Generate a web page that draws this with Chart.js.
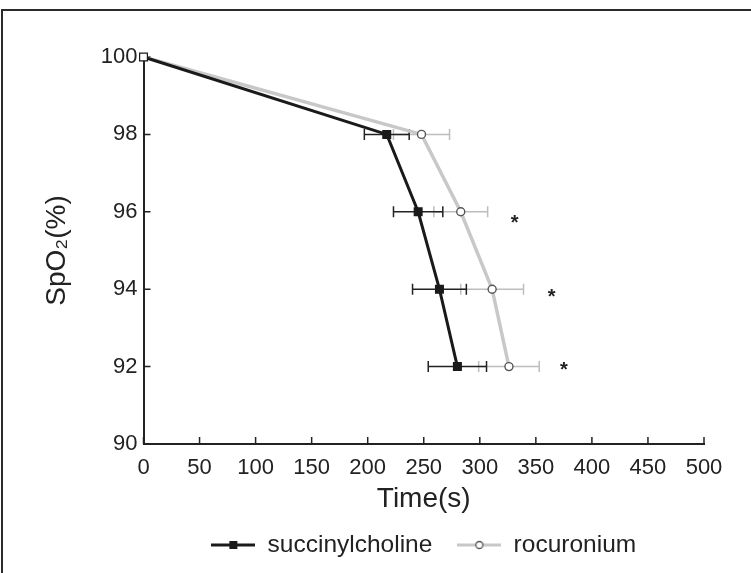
<!DOCTYPE html>
<html>
<head>
<meta charset="utf-8">
<script src="https://cdn.jsdelivr.net/npm/chart.js@4.4.1/dist/chart.umd.min.js"></script>
<style>
  body { margin: 0; background: #fff; }
  #wrap { position: absolute; left: 0; top: 0; width: 751px; height: 573px; overflow: hidden; }
  #frame { position: absolute; left: 1px; top: 9px; width: 800px; height: 600px; border-top: 2px solid #2b2b2b; border-left: 2px solid #2b2b2b; }
  canvas { position: absolute; left: 0; top: 0; }
</style>
</head>
<body>
<div id="wrap">
  <div id="frame"></div>
  <canvas id="chart" width="751" height="573"></canvas>
</div>
<script>
// ================= DATA =================
const spo2Levels = [100, 98, 96, 94, 92];
const succTime = [0, 217, 245, 264, 280];
const succSD = [0, 20, 22, 24, 26];
const rocTime = [0, 248, 283, 311, 326];
const rocSD = [0, 25, 24, 28, 27];
// significance marks
const starTime = [331, 364, 375];
const starLevel = [95.83, 93.92, 92.03];

Chart.defaults.font.family = "'Liberation Sans', Arial, sans-serif";
Chart.defaults.color = '#222';

// legend icons: line with marker
function legendIcon(kind) {
    const c = document.createElement('canvas');
    c.width = 44; c.height = 14;
    const g = c.getContext('2d');
    g.lineWidth = 3;
    g.strokeStyle = kind === 'square' ? '#1a1a1a' : '#c8c8c8';
    g.beginPath(); g.moveTo(0, 7); g.lineTo(44, 7); g.stroke();
    if (kind === 'square') {
        g.fillStyle = '#1a1a1a';
        g.fillRect(18, 3, 8, 8);
    } else {
        g.beginPath();
        g.arc(22, 7, 3.5, 0, Math.PI * 2);
        g.fillStyle = '#fff'; g.fill();
        g.lineWidth = 1.3; g.strokeStyle = '#555'; g.stroke();
    }
    return c;
}
const icons = [legendIcon('square'), legendIcon('circle')];

// error bars + inward ticks
const errorBars = {
    id: 'errorBars',
    beforeDatasetsDraw(chart) {
        const { ctx, scales: { x, y } } = chart;
        const sets = [[rocTime, rocSD, '#bdbdbd'], [succTime, succSD, '#222']];
        ctx.save();
        ctx.lineWidth = 1.5;
        sets.forEach(([t, sd, color]) => {
            ctx.strokeStyle = color;
            spo2Levels.forEach((lvl, i) => {
                if (!sd[i]) return;
                const py = y.getPixelForValue(lvl);
                const x1 = x.getPixelForValue(t[i] - sd[i]);
                const x2 = x.getPixelForValue(t[i] + sd[i]);
                ctx.beginPath();
                ctx.moveTo(x1, py); ctx.lineTo(x2, py);
                ctx.moveTo(x1, py - 5.5); ctx.lineTo(x1, py + 5.5);
                ctx.moveTo(x2, py - 5.5); ctx.lineTo(x2, py + 5.5);
                ctx.stroke();
            });
        });
        ctx.strokeStyle = '#222';
        ctx.beginPath();
        x.ticks.forEach(tk => {
            const px = x.getPixelForValue(tk.value);
            ctx.moveTo(px, y.bottom); ctx.lineTo(px, y.bottom - 7);
        });
        y.ticks.forEach(tk => {
            const py = y.getPixelForValue(tk.value);
            ctx.moveTo(x.left, py); ctx.lineTo(x.left + 7, py);
        });
        ctx.stroke();
        ctx.restore();
    },
    afterDatasetsDraw(chart) {
        const { ctx, scales: { x, y } } = chart;
        ctx.save();
        ctx.fillStyle = '#222';
        ctx.font = "bold 20px 'Liberation Sans', Arial, sans-serif";
        ctx.textAlign = 'center';
        ctx.textBaseline = 'alphabetic';
        starTime.forEach((t, i) => {
            ctx.fillText('*', x.getPixelForValue(t), y.getPixelForValue(starLevel[i]) + 11);
        });
        ctx.restore();
    }
};

new Chart(document.getElementById('chart'), {
    type: 'line',
    data: {
        datasets: [{
            label: 'succinylcholine',
            data: spo2Levels.map((v, i) => ({ x: succTime[i], y: v })),
            borderColor: '#1a1a1a',
            borderWidth: 3,
            pointStyle: 'rect',
            pointRadius: 5.5,
            pointBackgroundColor: ['#fff', '#1a1a1a', '#1a1a1a', '#1a1a1a', '#1a1a1a'],
            pointBorderColor: '#1a1a1a',
            pointBorderWidth: 1.2,
            clip: false
        }, {
            label: 'rocuronium',
            data: spo2Levels.map((v, i) => ({ x: rocTime[i], y: v })),
            borderColor: '#c8c8c8',
            borderWidth: 3.5,
            pointStyle: 'circle',
            pointRadius: [0, 4, 4, 4, 4],
            pointBackgroundColor: '#fff',
            pointBorderColor: '#555',
            pointBorderWidth: 1.4,
            clip: false
        }]
    },
    options: {
        responsive: false,
        animation: false,
        layout: { padding: { left: 30, top: 57, right: 47, bottom: 5.75 } },
        scales: {
            x: {
                type: 'linear', min: 0, max: 500,
                ticks: { stepSize: 50, padding: 11, font: { size: 22 }, maxRotation: 0, autoSkip: false },
                grid: { display: false, drawTicks: false },
                border: { display: true, color: '#222', width: 2 },
                title: { display: true, text: 'Time(s)', font: { size: 28, lineHeight: 1 }, padding: { top: 0, bottom: -5.25 } },
                afterFit: s => { s.height = 63.75; }
            },
            y: {
                min: 90, max: 100,
                ticks: { stepSize: 2, padding: 6, font: { size: 22 } },
                grid: { display: false, drawTicks: false },
                border: { display: true, color: '#222', width: 2 },
                title: { display: true, text: 'SpO₂(%)', font: { size: 28, lineHeight: 1 }, padding: { top: 13, bottom: 0 } },
                afterFit: s => { s.width = 113.5; }
            }
        },
        plugins: {
            tooltip: { enabled: false },
            legend: {
                position: 'bottom',
                fullSize: false,
                labels: {
                    usePointStyle: true,
                    pointStyleWidth: 44,
                    padding: 25,
                    color: '#222',
                    font: { size: 24.5 },
                    generateLabels: chart => chart.data.datasets.map((ds, i) => ({
                        text: ds.label, pointStyle: icons[i], datasetIndex: i,
                        fontColor: '#222', lineWidth: 0, hidden: false
                    }))
                }
            }
        }
    },
    plugins: [errorBars]
});
</script>
</body>
</html>
